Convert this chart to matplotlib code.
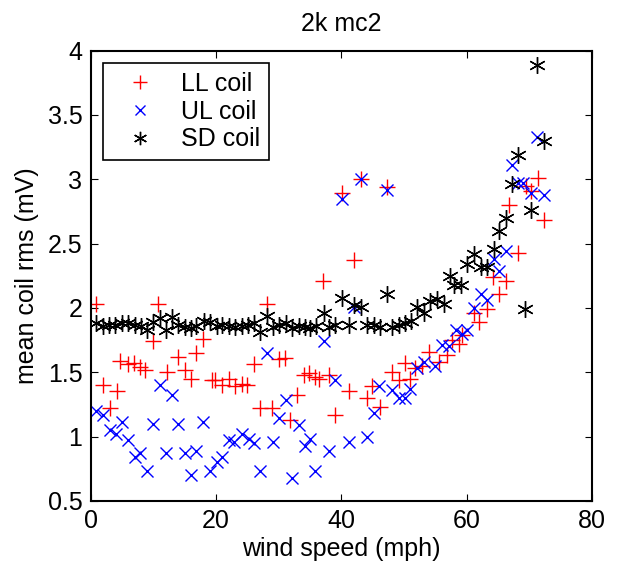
import matplotlib.pyplot as plt

# LL coil (red +)
ll_x = [0.85, 1.9, 3.0, 4.2, 4.7, 5.9, 6.9, 7.8, 8.6, 9.9, 10.8, 12.2, 13.9, 15.0, 16.0,
        16.8, 17.9, 19.3, 19.8, 20.9, 22.0, 23.0, 24.1, 24.9, 26.0, 27.0, 28.1, 28.9, 30.1,
        31.0, 31.8, 32.9, 34.0, 34.8, 35.8, 36.4, 37.1, 38.0, 39.0, 40.1, 41.2, 42.0, 43.1,
        44.1, 44.9, 46.2, 47.2, 48.1, 49.2, 50.2, 51.0, 51.8, 52.9, 54.0, 55.6, 56.9, 57.7,
        58.8, 59.3, 61.2, 62.0, 63.3, 64.1, 65.2, 66.2, 66.8, 68.1, 69.4, 70.2, 71.3, 72.3]
ll_y = [2.03, 1.40, 1.22, 1.35, 1.59, 1.56, 1.57, 1.54, 1.52, 1.74, 2.03, 1.50, 1.62, 1.52, 1.45,
        1.65, 1.76, 1.44, 1.44, 1.40, 1.45, 1.39, 1.41, 1.40, 1.56, 1.22, 2.03, 1.22, 1.60,
        1.61, 1.13, 1.32, 1.48, 1.49, 1.46, 1.45, 2.21, 1.48, 1.17, 2.89, 1.35, 2.37, 3.00,
        1.30, 1.39, 1.23, 2.94, 1.50, 1.44, 1.57, 1.45, 1.53, 1.55, 1.66, 1.58, 1.63, 1.75,
        1.72, 1.79, 1.96, 1.89, 1.99, 2.24, 2.11, 2.21, 2.80, 2.43, 2.95, 2.91, 3.01, 2.68]

# UL coil (blue x)
ul_x = [0.85, 1.9, 3.0, 4.0, 4.9, 5.9, 7.0, 7.9, 9.0, 10.0, 11.0, 12.0, 13.0, 13.9, 15.0,
        16.0, 16.8, 17.9, 19.0, 20.1, 20.9, 22.0, 22.8, 24.1, 25.2, 26.0, 27.0, 28.1, 29.1,
        30.1, 31.1, 32.1, 33.2, 34.2, 35.0, 35.8, 37.2, 38.0, 39.0, 40.1, 41.2, 42.0, 43.1,
        44.1, 45.2, 46.0, 47.2, 48.1, 49.2, 50.2, 51.0, 52.1, 53.2, 55.0, 56.1, 57.2, 58.2,
        59.3, 60.1, 61.2, 62.2, 63.3, 64.3, 65.2, 66.2, 67.2, 68.1, 68.9, 70.2, 71.2, 72.3]
ul_y = [1.20, 1.17, 1.05, 1.02, 1.11, 0.97, 0.84, 0.87, 0.73, 1.10, 1.40, 0.87, 1.32, 1.10, 0.87,
        0.70, 0.89, 1.11, 0.73, 0.80, 0.84, 0.97, 0.96, 1.02, 0.98, 0.95, 0.73, 1.65, 0.96,
        1.14, 1.28, 0.68, 1.09, 0.93, 0.98, 0.73, 1.74, 0.89, 1.44, 2.85, 0.96, 2.01, 3.00,
        1.00, 1.18, 1.39, 2.92, 1.36, 1.30, 1.30, 1.37, 1.53, 1.58, 1.55, 1.71, 1.70, 1.83,
        1.80, 1.83, 2.00, 2.11, 2.06, 2.38, 2.29, 2.44, 3.11, 2.97, 2.97, 2.89, 3.33, 2.88]

# SD coil (black *)
sd_x = [0.9, 1.9, 2.9, 3.9, 4.9, 5.9, 7.0, 8.0, 8.9, 10.0, 11.0, 12.0, 13.0, 13.9, 15.0,
        16.0, 16.8, 18.0, 19.0, 20.1, 21.0, 22.0, 23.0, 24.1, 25.1, 26.1, 27.0, 28.1, 29.1,
        30.1, 31.1, 32.1, 33.2, 34.2, 35.0, 36.0, 37.2, 38.0, 39.0, 40.1, 41.2, 42.0, 43.1,
        44.1, 45.2, 46.1, 47.2, 48.1, 49.2, 50.2, 51.1, 52.1, 53.2, 54.2, 55.2, 56.3, 57.3,
        58.0, 59.0, 60.1, 61.2, 62.2, 63.3, 64.3, 65.2, 66.2, 67.2, 68.1, 69.3, 70.2, 71.2, 72.3]
sd_y = [1.88, 1.86, 1.87, 1.87, 1.88, 1.88, 1.87, 1.86, 1.83, 1.89, 1.92, 1.83, 1.93, 1.87, 1.85,
        1.84, 1.86, 1.90, 1.89, 1.86, 1.87, 1.86, 1.85, 1.86, 1.87, 1.88, 1.81, 1.94, 1.85,
        1.87, 1.88, 1.84, 1.86, 1.85, 1.84, 1.86, 1.96, 1.85, 1.87, 2.08, 1.87, 2.02, 2.01,
        1.87, 1.87, 1.85, 2.11, 1.85, 1.87, 1.88, 1.90, 2.01, 1.96, 2.05, 2.07, 2.03, 2.25,
        2.18, 2.18, 2.34, 2.42, 2.32, 2.32, 2.46, 2.60, 2.70, 2.96, 3.19, 1.99, 2.76, 3.89, 3.30]

plt.rcParams['font.family'] = ['Liberation Sans', 'DejaVu Sans']
fs = 18

fig = plt.figure(figsize=(6.22, 5.75), dpi=100)
ax = fig.add_axes([0.146, 0.129, 0.806, 0.783])

ax.plot(ll_x, ll_y, linestyle='none', marker='+', color='r', markersize=12, markeredgewidth=1, label='LL coil')
ax.plot(ul_x, ul_y, linestyle='none', marker='x', color='b', markersize=9, markeredgewidth=1, label='UL coil')
ax.plot(sd_x, sd_y, linestyle='none', marker=(6, 2, 0), color='k', markersize=12, markeredgewidth=1, label='SD coil')

ax.set_xlim(0, 80)
ax.set_ylim(0.5, 4)
ax.set_xticks([0, 20, 40, 60, 80])
ax.set_yticks([0.5, 1, 1.5, 2, 2.5, 3, 3.5, 4])
ax.set_yticklabels(['0.5', '1', '1.5', '2', '2.5', '3', '3.5', '4'])
ax.tick_params(direction='in', top=True, right=True, length=5, labelsize=fs, pad=6)
for s in ax.spines.values():
    s.set_linewidth(1.5)

ax.set_xlabel('wind speed (mph)', fontsize=fs, labelpad=3)
ax.set_ylabel('mean coil rms (mV)', fontsize=fs, labelpad=6)
ax.set_title('2k mc2', fontsize=fs, pad=14)

leg = ax.legend(loc='upper left', fontsize=fs, frameon=True, fancybox=False, framealpha=1,
                edgecolor='k', borderpad=0.35, labelspacing=0.15, handletextpad=0.55,
                handlelength=2.2, borderaxespad=0.5, markerscale=0.8)
leg.get_frame().set_linewidth(1.2)

fig.savefig('out.png', dpi=100)
